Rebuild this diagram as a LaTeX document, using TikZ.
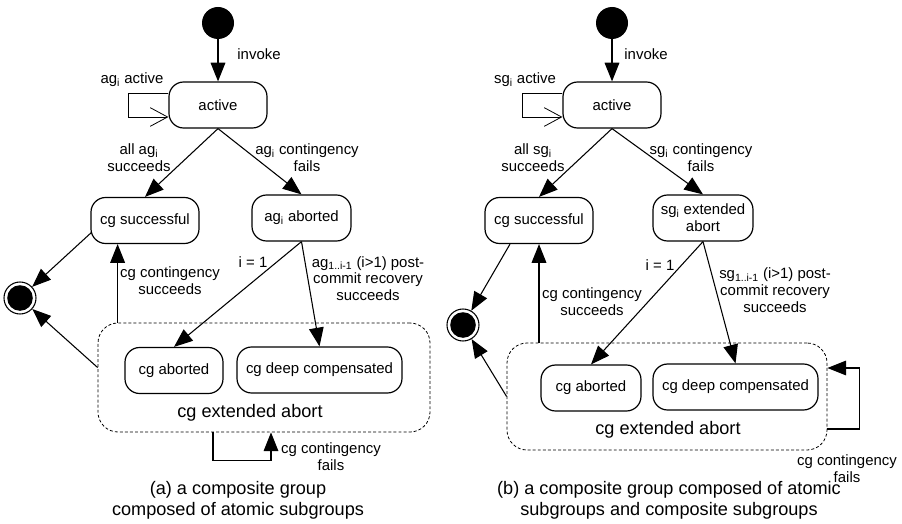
\documentclass[tikz,border=0pt]{standalone}
\usepackage{fontspec}
\setmainfont{Liberation Sans}
\usetikzlibrary{arrows.meta,calc}
\begin{document}
\begin{tikzpicture}[x=0.75pt,y=-0.75pt,
  every node/.style={font=\fontsize{11.2}{12.6}\selectfont},
  state/.style={draw, rounded corners=11pt, line width=0.9pt, minimum height=34.5pt, align=center, inner sep=2pt},
  init/.style={circle, fill=black, minimum size=24pt, inner sep=0pt},
  final/.style={circle, draw, line width=0.8pt, minimum size=24pt, inner sep=0pt,
    path picture={\fill[black] (path picture bounding box.center) circle[radius=9.6pt];}},
  superstate/.style={draw, dash pattern=on 2.2pt off 1.6pt, line width=0.6pt, rounded corners=15pt, inner sep=0pt},
  trans/.style={line width=0.8pt, -{Triangle[length=14pt,width=11pt]}},
  selfloop/.style={line width=0.6pt, -{Straight Barb[length=13pt,width=14pt,line width=0.6pt]}},
  lbl/.style={align=center, inner sep=0pt},
  bigtext/.style={font=\fontsize{13.6}{15.8}\selectfont, align=center, inner sep=0pt}
]
\useasboundingbox (0,0) rectangle (902,524);

% ---------- (a) composite group of atomic subgroups ----------
\node[init] (iniL) at (218,23) {};
\node[state, minimum width=73.5pt] (actL) at (218,105) {active};
\node[state, minimum width=81pt] (sucL) at (145,220.5) {cg successful};
\node[state, minimum width=74.25pt] (abtL) at (301.5,218) {ag\textsubscript{i} aborted};
\node[final] (finL) at (20,298) {};
\node[superstate, minimum width=249pt, minimum height=81.75pt] (extL) at (264,377.5) {};
\node[state, minimum width=73.5pt] (cgaL) at (174,370.5) {cg aborted};
\node[state, minimum width=123.75pt] (cgdL) at (319.5,370) {cg deep compensated};
\node[bigtext] (extLtxt) at (250,413) {cg extended abort};

\draw[trans] (iniL) -- (actL);
\draw[selfloop] ($(actL.west)+(0,-12)$) -- ++(-40,0) -- ++(0,24) -- ($(actL.west)+(0,12)$);
\draw[trans] (actL.south) -- (sucL.north);
\draw[trans] (actL.south) -- (abtL.north);
\draw[trans] ($(sucL.west)+(1,12)$) -- (finL);
\draw[trans] ($(extL.west)+(0,-10)$) -- (finL);
\coordinate (upL) at ($(extL.north west)+(20,0)$);
\draw[trans] (upL) -- (upL |- sucL.south);
\draw[trans] (abtL.south) -- (cgaL.north);
\draw[trans] (abtL.south) -- (cgdL.north);
\coordinate (lpaL) at ($(extL.south)+(-51,0)$);
\coordinate (lpbL) at ($(extL.south)+(7,0)$);
\draw[trans] (lpaL) -- ++(0,28) -| (lpbL);

\node[lbl] (invL) at (259,54) {invoke};
\node[lbl] (slL) at (132,80) {ag\textsubscript{i} active};
\node[lbl] (allL) at (139,158) {all ag\textsubscript{i}\\succeeds};
\node[lbl] (failL) at (307,158) {ag\textsubscript{i} contingency\\fails};
\node[lbl] (csucL) at (170,280.5) {cg contingency\\succeeds};
\node[lbl] (ioneL) at (253,262) {i = 1};
\node[lbl] (pcrL) at (368,278.5) {ag\textsubscript{1..i-1} (i>1) post-\\commit recovery\\succeeds};
\node[lbl] (cfL) at (331,457) {cg contingency\\fails};
\node[bigtext] (capL) at (238,500.5) {(a) a composite group\\composed of atomic subgroups};

% ---------- (b) composite group of atomic and composite subgroups ----------
\node[init] (iniR) at (612,23) {};
\node[state, minimum width=73.5pt] (actR) at (612,105) {active};
\node[state, minimum width=81pt] (sucR) at (539,220.5) {cg successful};
\node[state, minimum width=75pt] (abtR) at (703,218) {sg\textsubscript{i} extended\\abort};
\node[final] (finR) at (463,325) {};
\node[superstate, minimum width=240pt, minimum height=80.25pt] (extR) at (667,396.5) {};
\node[state, minimum width=75pt] (cgaR) at (591,388) {cg aborted};
\node[state, minimum width=123.75pt] (cgdR) at (735.5,387) {cg deep compensated};
\node[bigtext] (extRtxt) at (668,430) {cg extended abort};

\draw[trans] (iniR) -- (actR);
\draw[selfloop] ($(actR.west)+(0,-12)$) -- ++(-40,0) -- ++(0,24) -- ($(actR.west)+(0,12)$);
\draw[trans] (actR.south) -- (sucR.north);
\draw[trans] (actR.south) -- (abtR.north);
\draw[trans] ($(sucR.south)+(-29,0)$) -- (finR);
\draw[trans] (extR.west) -- (finR);
\draw[trans] (sucR.south |- extR.north) -- (sucR.south);
\draw[trans] (abtR.south) -- (cgaR.north);
\draw[trans] (abtR.south) -- (cgdR.north);
\coordinate (lpaR) at ($(extR.east)+(0,32.5)$);
\coordinate (lpbR) at ($(extR.east)+(0,-28.5)$);
\draw[trans] (lpaR) -- ++(32,0) |- (lpbR);

\node[lbl] (invR) at (646,54) {invoke};
\node[lbl] (slR) at (525,80) {sg\textsubscript{i} active};
\node[lbl] (allR) at (533,158) {all sg\textsubscript{i}\\succeeds};
\node[lbl] (failR) at (701,158) {sg\textsubscript{i} contingency\\fails};
\node[lbl] (csucR) at (592,301.5) {cg contingency\\succeeds};
\node[lbl] (ioneR) at (660,265) {i = 1};
\node[lbl] (pcrR) at (775,290) {sg\textsubscript{1..i-1} (i>1) post-\\commit recovery\\succeeds};
\node[lbl] (cfR) at (847,469) {cg contingency\\fails};
\node[bigtext] (capR) at (669,500.5) {(b) a composite group composed of atomic\\subgroups and composite subgroups};
\end{tikzpicture}
\end{document}
